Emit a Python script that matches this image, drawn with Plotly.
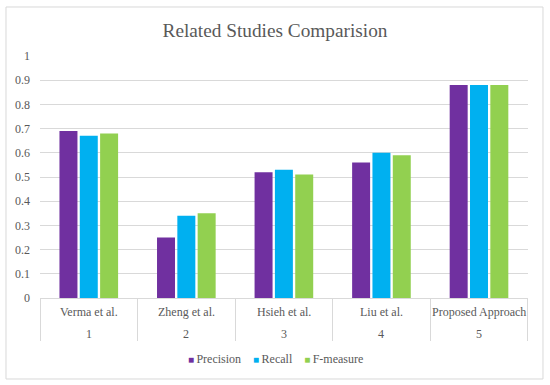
import plotly.graph_objects as go

studies = ["Verma et al.", "Zheng et al.", "Hsieh et al.", "Liu et al.", "Proposed Approach"]
numbers = ["1", "2", "3", "4", "5"]
series_names = ["Precision", "Recall", "F-measure"]
series_colors = ["#7030A0", "#00B0F0", "#92D050"]
precision = [0.69, 0.25, 0.52, 0.56, 0.88]
recall = [0.67, 0.34, 0.53, 0.60, 0.88]
fmeasure = [0.68, 0.35, 0.51, 0.59, 0.88]
yticks = [0, 0.1, 0.2, 0.3, 0.4, 0.5, 0.6, 0.7, 0.8, 0.9, 1]
ylabels = ["0", "0.1", "0.2", "0.3", "0.4", "0.5", "0.6", "0.7", "0.8", "0.9", "1"]

font = "Liberation Serif"
grey = "#595959"
fig = go.Figure()
for name, vals, col in zip(series_names, [precision, recall, fmeasure], series_colors):
    fig.add_trace(go.Bar(x=studies, y=vals, name=name, showlegend=False,
                         marker=dict(color=col, line=dict(width=0))))

annotations = []
for s, n in zip(studies, numbers):
    annotations.append(dict(x=s, xref="x", y=-0.058, yref="paper", text=s, showarrow=False,
                            xanchor="center", yanchor="middle", font=dict(family=font, size=12, color=grey)))
    annotations.append(dict(x=s, xref="x", y=-0.149, yref="paper", text=n, showarrow=False,
                            xanchor="center", yanchor="middle", font=dict(family=font, size=12, color=grey)))

# compact legend (Excel style): small coloured squares followed by the series names
legend_parts = []
for name, col in zip(series_names, series_colors):
    legend_parts.append(f'<span style="color:{col};font-size:10px">■</span>\u2009{name}')
legend_text = "\u2003".join(legend_parts)
annotations.append(dict(x=0.4826, xref="paper", y=-0.252, yref="paper", text=legend_text,
                        showarrow=False, xanchor="center", yanchor="middle",
                        font=dict(family=font, size=12, color=grey)))

fig.update_layout(
    width=550, height=385,
    margin=dict(l=40, r=22, t=56, b=87, autoexpand=False),
    paper_bgcolor="white", plot_bgcolor="white",
    barmode="group", bargap=0.375, bargroupgap=0.115,
    font=dict(family=font, size=12, color=grey),
    showlegend=False,
    title=dict(text="Related Studies Comparision", xref="container", x=0.5, xanchor="center",
               yref="container", y=1 - 30 / 385, yanchor="middle",
               font=dict(family=font, size=19.3, color=grey)),
    annotations=annotations,
    shapes=[dict(type="rect", xref="paper", yref="paper", x0=-0.0697, x1=1.0307, y0=-0.3347, y1=1.2025,
                 line=dict(color="#d9d9d9", width=1))],
)
fig.update_yaxes(range=[0, 1], tickvals=yticks, ticktext=ylabels, showgrid=True,
                 gridcolor="#d9d9d9", gridwidth=1, zeroline=False, showline=False,
                 ticks="", ticklabelstandoff=9, automargin=False,
                 tickfont=dict(family=font, size=12, color=grey))
fig.update_xaxes(showline=True, linecolor="#d9d9d9", ticks="outside", tickcolor="#d9d9d9",
                 tickson="boundaries", ticklen=42, showgrid=False, showticklabels=False,
                 automargin=False)
fig.write_html("out.html", config={"displayModeBar": False},
               post_script="document.body.style.margin='0px';")
